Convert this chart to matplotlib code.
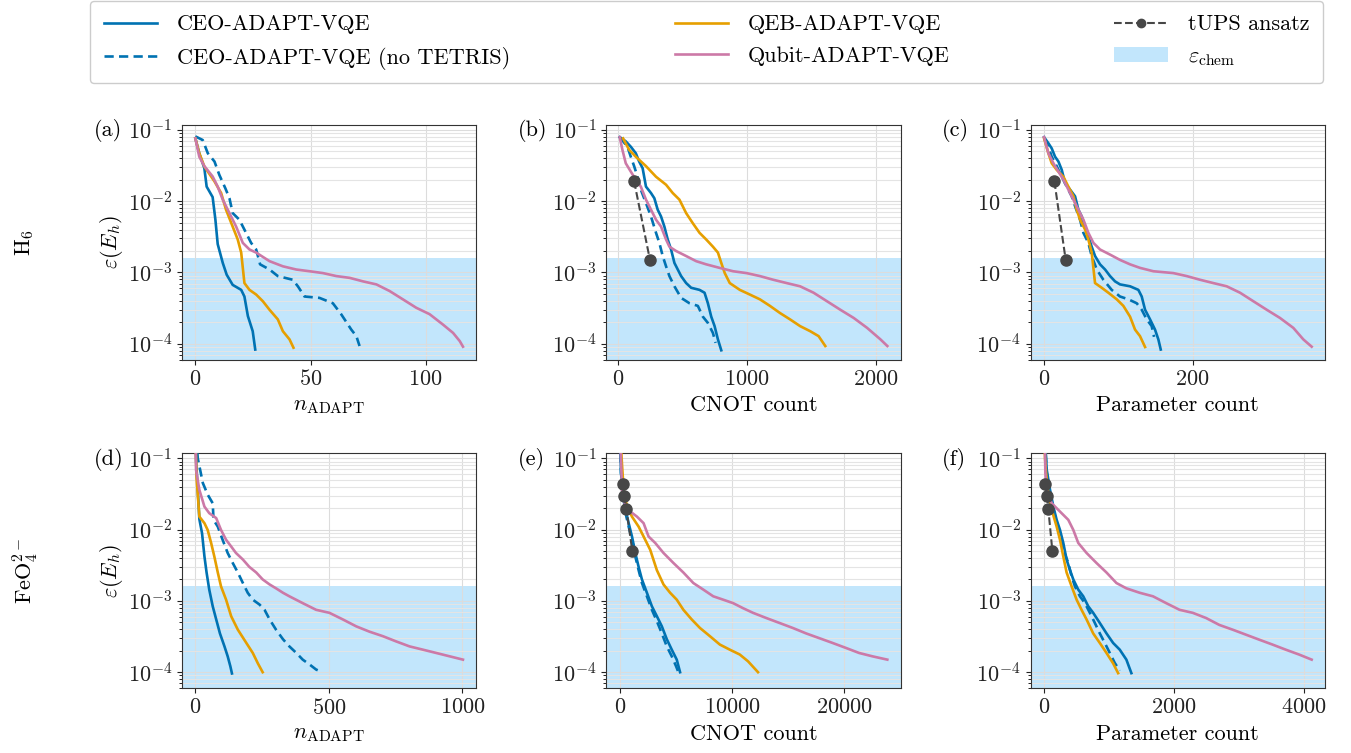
import matplotlib
matplotlib.use("Agg")
import matplotlib.pyplot as plt
from matplotlib.lines import Line2D
from matplotlib.patches import Patch

plt.rcParams["font.family"] = "cmr10"
plt.rcParams["mathtext.fontset"] = "cm"
plt.rcParams["axes.formatter.use_mathtext"] = True
plt.rcParams["font.size"] = 16

CEO_COLOR = "#0072B2"
QEB_COLOR = "#E69F00"
QUBIT_COLOR = "#CC79A7"
TUPS_COLOR = "#474747"
CHEM_COLOR = "#87CEFA"
CHEM_ACC = 1.6e-3

# ---- H6, x = n_ADAPT ----
A_CEO_X = [0, 1.7, 3.9, 4.9, 7.5, 8.7, 9.7, 11.9, 13.6, 16.2, 19.9, 21.3, 22.8, 24.9, 26]
A_CEO_Y = [0.076, 0.047, 0.029, 0.016, 0.0114, 0.0055, 0.0025, 0.00136, 9.3e-4, 6.7e-4,
           5.7e-4, 4.6e-4, 2.45e-4, 1.5e-4, 8.3e-5]
A_NT_X = [0, 3.2, 5.4, 8.3, 10.4, 13, 14.8, 16.2, 19.1, 22, 24.2, 26.4, 28.1, 32.2, 35.8,
          42.3, 44.5, 47.4, 53.9, 59.7, 63.3, 67.7, 69.9, 71.3]
A_NT_Y = [0.081, 0.072, 0.047, 0.036, 0.0234, 0.0152, 0.011, 0.0068, 0.0055, 0.0036, 0.0026,
          0.0021, 0.0013, 0.0011, 8.9e-4, 7.9e-4, 6.4e-4, 4.6e-4, 4.4e-4, 3.7e-4, 2.6e-4,
          1.58e-4, 1.28e-4, 9.3e-5]
A_QEB_X = [0, 1.7, 3.9, 8.3, 11.2, 13.3, 16.2, 18.4, 19.9, 21.3, 23.5, 26.4, 29.3, 32.2,
           35.8, 38, 40.9, 42.6]
A_QEB_Y = [0.076, 0.047, 0.0307, 0.0189, 0.013, 0.0076, 0.0044, 0.0029, 0.0019, 7.1e-4,
           5.7e-4, 4.9e-4, 3.95e-4, 3.0e-4, 2.2e-4, 1.5e-4, 1.15e-4, 8.8e-5]
A_QUB_X = [0, 1.7, 3.9, 7.5, 9.7, 11.9, 14.8, 17.7, 20.6, 23.5, 26.4, 32.2, 38, 43.8, 49.6,
           55.4, 61.2, 67, 72.8, 78.6, 84.3, 90.1, 95.9, 101.7, 107.5, 111.9, 114.8, 116.2]
A_QUB_Y = [0.076, 0.042, 0.031, 0.0222, 0.016, 0.0105, 0.0068, 0.0044, 0.0026, 0.0021,
           0.0019, 0.00144, 0.00122, 0.0011, 0.00104, 9.8e-4, 8.9e-4, 8.4e-4, 7.5e-4, 6.8e-4,
           5.5e-4, 4.2e-4, 3.2e-4, 2.6e-4, 1.86e-4, 1.42e-4, 1.09e-4, 9.1e-5]

# ---- H6, x = CNOT count ----
B_CEO_X = [10, 57, 96, 135, 161, 188, 214, 253, 279, 305, 331, 357, 383, 409, 435, 461, 487,
           526, 565, 630, 669, 695, 721, 747, 773, 799]
B_CEO_Y = [0.079, 0.069, 0.058, 0.047, 0.036, 0.029, 0.016, 0.013, 0.011, 0.0076, 0.0061,
           0.0044, 0.0029, 0.0021, 0.00136, 0.0011, 8.9e-4, 7.1e-4, 6.1e-4, 5.7e-4, 5.2e-4,
           3.7e-4, 2.4e-4, 1.77e-4, 1.15e-4, 8.1e-5]
B_NT_X = [10, 70, 96, 122, 148, 174, 214, 253, 292, 318, 344, 370, 396, 435, 487, 552, 617,
          656, 695, 734, 755]
B_NT_Y = [0.079, 0.058, 0.042, 0.031, 0.022, 0.0145, 0.0094, 0.0061, 0.0036, 0.0026, 0.0017,
          0.00122, 8.9e-4, 6.4e-4, 4.4e-4, 3.7e-4, 3.4e-4, 2.4e-4, 1.96e-4, 1.42e-4, 1.03e-4]
B_QEB_X = [36, 83, 135, 214, 292, 370, 422, 474, 526, 578, 630, 682, 734, 773, 799, 826, 865,
           943, 1021, 1099, 1177, 1255, 1333, 1411, 1490, 1555, 1607]
B_QEB_Y = [0.076, 0.0525, 0.042, 0.031, 0.022, 0.017, 0.013, 0.0105, 0.0068, 0.0049, 0.0036,
           0.0029, 0.0023, 0.0019, 0.00136, 9.8e-4, 7.1e-4, 5.7e-4, 4.9e-4, 4.2e-4, 3.4e-4,
           2.7e-4, 2.2e-4, 1.77e-4, 1.5e-4, 1.28e-4, 9.3e-5]
B_QUB_X = [10, 31, 57, 96, 135, 174, 214, 253, 292, 331, 370, 396, 448, 526, 604, 682, 786,
           891, 995, 1099, 1203, 1307, 1411, 1516, 1620, 1724, 1828, 1932, 2036, 2089]
B_QUB_Y = [0.079, 0.0525, 0.034, 0.026, 0.02, 0.016, 0.0105, 0.0076, 0.0055, 0.0044, 0.0029,
           0.0023, 0.002, 0.0017, 0.00144, 0.0013, 0.00116, 0.00104, 9.8e-4, 8.9e-4, 7.9e-4,
           7.1e-4, 6.4e-4, 5.2e-4, 3.95e-4, 3.0e-4, 2.3e-4, 1.67e-4, 1.15e-4, 9.3e-5]
B_TUPS_X = [122, 245]
B_TUPS_Y = [0.019, 0.0015]

# ---- H6, x = parameter count ----
C_CEO_X = [0, 5.8, 10.3, 14.8, 19.3, 23.8, 28.3, 35, 41.7, 46.2, 50.7, 55.2, 59.6, 64.1,
           68.6, 75.3, 82.1, 88.8, 95.5, 102.2, 115.7, 126.9, 131.4, 135.9, 142.6, 149.3,
           153.8, 157]
C_CEO_Y = [0.079, 0.065, 0.055, 0.042, 0.036, 0.0275, 0.0179, 0.0145, 0.0117, 0.0076, 0.0061,
           0.0044, 0.0032, 0.0023, 0.0017, 0.0013, 0.0011, 8.9e-4, 7.5e-4, 6.8e-4, 6.4e-4,
           5.7e-4, 4.6e-4, 3.0e-4, 2.2e-4, 1.58e-4, 1.15e-4, 8.3e-5]
C_NT_X = [0, 5.8, 10.3, 17, 23.8, 30.5, 37.2, 41.7, 48.4, 52.9, 59.6, 64.1, 70.9, 79.8, 91,
          102.2, 113.5, 124.7, 131.4, 138.1, 144.8, 148]
C_NT_Y = [0.076, 0.058, 0.042, 0.031, 0.022, 0.016, 0.0117, 0.0085, 0.0055, 0.0036, 0.0026,
          0.0017, 0.0011, 7.9e-4, 5.7e-4, 4.6e-4, 4.2e-4, 3.7e-4, 3.0e-4, 2.2e-4, 1.77e-4,
          1.25e-4]
C_QEB_X = [0, 5.8, 10.3, 17, 26, 32.7, 39.5, 43.9, 48.4, 55.2, 59.6, 64.1, 68.6, 77.6, 86.5,
           97.8, 106.7, 115.7, 122.4, 129.1, 135.9]
C_QEB_Y = [0.076, 0.047, 0.034, 0.0275, 0.022, 0.016, 0.0117, 0.0076, 0.0055, 0.004, 0.0029,
           0.0019, 7.1e-4, 6.1e-4, 5.2e-4, 4.2e-4, 3.4e-4, 2.4e-4, 1.58e-4, 1.28e-4, 9.0e-5]
C_QUB_X = [0, 5.8, 12.6, 19.3, 26, 32.7, 39.5, 46.2, 52.9, 59.6, 66.4, 75.3, 88.8, 102.2,
           115.7, 129.1, 147.1, 174, 191.9, 209.9, 227.8, 245.7, 263.7, 281.6, 299.6, 317.5,
           335.4, 348.9, 360.1]
C_QUB_Y = [0.079, 0.047, 0.034, 0.026, 0.02, 0.0145, 0.0105, 0.0076, 0.0055, 0.0036, 0.0026,
           0.0021, 0.00178, 0.0015, 0.0013, 0.00116, 0.00104, 9.8e-4, 8.9e-4, 7.9e-4, 7.1e-4,
           6.4e-4, 5.2e-4, 3.95e-4, 3.0e-4, 2.3e-4, 1.67e-4, 1.15e-4, 9.1e-5]
C_TUPS_X = [13.9, 29.1]
C_TUPS_Y = [0.019, 0.0015]

# ---- FeO4^2-, x = n_ADAPT ----
D_CEO_X = [0, 3, 9, 15, 25, 34, 42, 52, 65, 78, 92, 109, 121, 131, 137]
D_CEO_Y = [0.3, 0.09, 0.036, 0.014, 0.0089, 0.0042, 0.0025, 0.00144, 8.4e-4, 5.5e-4, 3.5e-4,
           2.3e-4, 1.67e-4, 1.21e-4, 9.6e-5]
D_NT_X = [0, 9, 28, 46, 65, 68, 84, 102, 121, 140, 159, 178, 196, 215, 240, 259, 278, 302,
          328, 352, 378, 402, 428, 452, 475]
D_NT_Y = [0.3, 0.1, 0.045, 0.031, 0.0234, 0.0137, 0.011, 0.0072, 0.0047, 0.0034, 0.0025,
          0.00178, 0.0013, 0.00104, 8.9e-4, 7.5e-4, 5.5e-4, 3.95e-4, 2.9e-4, 2.3e-4, 1.86e-4,
          1.5e-4, 1.28e-4, 1.09e-4, 1.0e-4]
D_QEB_X = [0, 2.5, 5, 15, 34, 46, 59, 71, 84, 96, 115, 134, 159, 190, 215, 234, 252]
D_QEB_Y = [0.3, 0.1, 0.05, 0.0152, 0.0123, 0.0099, 0.0065, 0.0042, 0.0025, 0.0016, 0.00104,
           6.1e-4, 3.95e-4, 2.6e-4, 1.86e-4, 1.33e-4, 1.0e-4]
D_QUB_X = [0, 2.5, 15, 34, 52, 78, 96, 115, 134, 152, 178, 202, 228, 252, 278, 302, 328, 352,
           402, 452, 502, 552, 602, 652, 702, 752, 802, 852, 902, 952, 1002]
D_QUB_Y = [0.3, 0.069, 0.036, 0.021, 0.017, 0.0145, 0.0099, 0.0072, 0.0058, 0.0047, 0.0038,
           0.003, 0.0025, 0.002, 0.0017, 0.0015, 0.0013, 0.00116, 9.3e-4, 7.5e-4, 6.8e-4,
           5.5e-4, 4.4e-4, 3.7e-4, 3.2e-4, 2.7e-4, 2.3e-4, 2.07e-4, 1.86e-4, 1.67e-4, 1.5e-4]

# ---- FeO4^2-, x = CNOT count ----
E_CEO_X = [0, 118, 354, 591, 798, 1093, 1388, 1684, 1979, 2422, 2866, 3309, 3752, 4195, 4638,
           5081, 5377]
E_CEO_Y = [0.3, 0.062, 0.029, 0.017, 0.0123, 0.008, 0.0047, 0.003, 0.002, 0.0013, 8.4e-4,
           6.1e-4, 4.4e-4, 2.9e-4, 2.07e-4, 1.5e-4, 1.0e-4]
E_NT_X = [0, 118, 354, 591, 798, 1093, 1388, 1684, 1979, 2422, 2866, 3309, 3752, 4195, 4638,
          5022, 5229]
E_NT_Y = [0.3, 0.062, 0.026, 0.0152, 0.011, 0.0072, 0.0042, 0.0027, 0.00178, 0.00116, 7.5e-4,
          5.2e-4, 3.5e-4, 2.3e-4, 1.67e-4, 1.21e-4, 1.0e-4]
E_QEB_X = [0, 207, 354, 650, 1093, 1684, 2127, 2718, 3309, 3900, 4490, 5081, 5672, 6411, 7149,
           8035, 8922, 9808, 10694, 11433, 12319]
E_QEB_Y = [0.3, 0.08, 0.036, 0.021, 0.0152, 0.011, 0.008, 0.0052, 0.0027, 0.0017, 0.0013,
           0.00104, 7.5e-4, 5.5e-4, 4.17e-4, 3.2e-4, 2.44e-4, 2.07e-4, 1.77e-4, 1.42e-4, 1.0e-4]
E_QUB_X = [0, 207, 502, 945, 1536, 2127, 2570, 3161, 3900, 4786, 5672, 6558, 7445, 8331, 9217,
           10103, 10990, 11876, 13058, 14239, 15421, 16603, 17784, 18966, 20148, 21329, 22511,
           23840]
E_QUB_Y = [0.3, 0.036, 0.021, 0.0179, 0.0152, 0.0123, 0.008, 0.0065, 0.0047, 0.0034, 0.0025,
           0.00178, 0.00144, 0.00116, 0.00104, 9.3e-4, 7.9e-4, 6.8e-4, 5.75e-4, 4.9e-4, 4.17e-4,
           3.5e-4, 3.0e-4, 2.57e-4, 2.19e-4, 1.86e-4, 1.67e-4, 1.5e-4]
E_TUPS_X = [295, 414, 591, 1123]
E_TUPS_Y = [0.043, 0.0297, 0.0193, 0.005]

# ---- FeO4^2-, x = parameter count ----
F_CEO_X = [0, 41, 92, 143, 194, 245, 296, 347, 399, 450, 526, 603, 680, 756, 858, 961, 1063,
           1165, 1267, 1344]
F_CEO_Y = [0.3, 0.069, 0.036, 0.021, 0.0137, 0.0099, 0.0065, 0.0038, 0.0027, 0.002, 0.00144,
           0.00116, 8.4e-4, 6.8e-4, 4.9e-4, 3.5e-4, 2.57e-4, 2.07e-4, 1.5e-4, 9.7e-5]
F_NT_X = [0, 41, 92, 143, 194, 245, 296, 373, 424, 475, 552, 629, 705, 782, 858, 935, 1012,
          1088, 1165]
F_NT_Y = [0.3, 0.062, 0.032, 0.0189, 0.0123, 0.008, 0.0052, 0.0034, 0.0022, 0.0016, 0.00116,
          9.3e-4, 6.8e-4, 4.9e-4, 3.5e-4, 2.57e-4, 1.86e-4, 1.35e-4, 1.05e-4]
F_QEB_X = [0, 15, 31, 66, 118, 194, 245, 296, 347, 424, 501, 577, 654, 756, 858, 961, 1063,
           1140]
F_QEB_Y = [0.3, 0.1, 0.062, 0.032, 0.0189, 0.011, 0.0072, 0.0042, 0.0025, 0.0016, 0.00104,
           7.5e-4, 5.5e-4, 3.5e-4, 2.57e-4, 1.86e-4, 1.33e-4, 9.7e-5]
F_QUB_X = [0, 15, 20, 41, 118, 245, 373, 450, 526, 654, 807, 961, 1114, 1267, 1472, 1676,
           1880, 2085, 2289, 2494, 2698, 2902, 3107, 3311, 3516, 3720, 3924, 4119]
F_QUB_Y = [0.3, 0.12, 0.062, 0.036, 0.0234, 0.0179, 0.0137, 0.0099, 0.0065, 0.0047, 0.0034,
           0.0025, 0.00178, 0.0015, 0.0013, 0.00116, 9.3e-4, 7.5e-4, 6.8e-4, 5.75e-4, 4.6e-4,
           3.95e-4, 3.36e-4, 2.86e-4, 2.44e-4, 2.07e-4, 1.77e-4, 1.5e-4]
F_TUPS_X = [20, 46, 66, 128]
F_TUPS_Y = [0.043, 0.0297, 0.0193, 0.005]

PANEL_TAGS = ["(a)", "(b)", "(c)", "(d)", "(e)", "(f)"]
X_LABELS = [r"$n_{\mathrm{ADAPT}}$", "CNOT count", "Parameter count"]
ROW_LABELS = [r"H$_6$", r"FeO$_4^{2-}$"]
X_TICKS = [[0, 50, 100], [0, 1000, 2000], [0, 200],
           [0, 500, 1000], [0, 10000, 20000], [0, 2000, 4000]]

PANELS = [
    (A_CEO_X, A_CEO_Y, A_NT_X, A_NT_Y, A_QEB_X, A_QEB_Y, A_QUB_X, A_QUB_Y, None, None),
    (B_CEO_X, B_CEO_Y, B_NT_X, B_NT_Y, B_QEB_X, B_QEB_Y, B_QUB_X, B_QUB_Y, B_TUPS_X, B_TUPS_Y),
    (C_CEO_X, C_CEO_Y, C_NT_X, C_NT_Y, C_QEB_X, C_QEB_Y, C_QUB_X, C_QUB_Y, C_TUPS_X, C_TUPS_Y),
    (D_CEO_X, D_CEO_Y, D_NT_X, D_NT_Y, D_QEB_X, D_QEB_Y, D_QUB_X, D_QUB_Y, None, None),
    (E_CEO_X, E_CEO_Y, E_NT_X, E_NT_Y, E_QEB_X, E_QEB_Y, E_QUB_X, E_QUB_Y, E_TUPS_X, E_TUPS_Y),
    (F_CEO_X, F_CEO_Y, F_NT_X, F_NT_Y, F_QEB_X, F_QEB_Y, F_QUB_X, F_QUB_Y, F_TUPS_X, F_TUPS_Y),
]

fig, axes = plt.subplots(2, 3, figsize=(13.51, 7.53), dpi=100)
fig.subplots_adjust(left=0.1347, right=0.9808, top=0.834, bottom=0.0863,
                    wspace=0.4415, hspace=0.40)

LW = 1.9
for idx, (ax, panel) in enumerate(zip(axes.flat, PANELS)):
    cx, cy, nx, ny, qx, qy, ux, uy, tx, ty = panel
    ax.axhspan(1e-6, CHEM_ACC, color=CHEM_COLOR, alpha=0.5, lw=0, zorder=0)
    ax.plot(cx, cy, color=CEO_COLOR, lw=LW, zorder=3)
    ax.plot(nx, ny, color=CEO_COLOR, lw=LW, ls=(0, (3.5, 2)), zorder=3)
    ax.plot(qx, qy, color=QEB_COLOR, lw=LW, zorder=3)
    ax.plot(ux, uy, color=QUBIT_COLOR, lw=LW, zorder=3)
    if tx is not None:
        ax.plot(tx, ty, color=TUPS_COLOR, lw=1.5, ls="--", marker="o", ms=8, zorder=4)

    ax.set_yscale("log")
    ax.set_ylim(6e-5, 0.117)
    ax.set_xticks(X_TICKS[idx])
    ax.grid(True, which="major", color="#dcdcdc", lw=0.8, zorder=1)
    ax.yaxis.grid(True, which="minor", color="#e4e4e4", lw=0.8, zorder=1)
    ax.set_axisbelow(True)
    for sp in ax.spines.values():
        sp.set_color("#333333")
    ax.tick_params(colors="#222222", labelsize=16)
    ax.set_xlabel(X_LABELS[idx % 3], fontsize=16, labelpad=5)
    if idx % 3 == 0:
        ax.set_ylabel(r"$\varepsilon(E_h)$", fontsize=16, labelpad=2)
    ax.text(-0.30, 0.975, PANEL_TAGS[idx], transform=ax.transAxes,
            ha="left", va="center", fontsize=16)

for row, label in enumerate(ROW_LABELS):
    pos = axes[row, 0].get_position()
    fig.text(0.0185, (pos.y0 + pos.y1) / 2, label, rotation=90,
             ha="center", va="center", fontsize=16)

handles = [
    Line2D([], [], color=CEO_COLOR, lw=LW),
    Line2D([], [], color=CEO_COLOR, lw=LW, ls=(0, (3.5, 2))),
    Line2D([], [], color=QEB_COLOR, lw=LW),
    Line2D([], [], color=QUBIT_COLOR, lw=LW),
    Line2D([], [], color=TUPS_COLOR, lw=1.5, ls="--", marker="o", ms=6),
    Patch(facecolor=CHEM_COLOR, alpha=0.5, edgecolor="none"),
]
labels = ["CEO-ADAPT-VQE", "CEO-ADAPT-VQE (no TETRIS)", "QEB-ADAPT-VQE",
          "Qubit-ADAPT-VQE", "tUPS ansatz", r"$\varepsilon_{\mathrm{chem}}$"]
fig.legend(handles, labels, loc="upper left", ncol=3, mode="expand",
           bbox_to_anchor=(90 / 1351, 0, (1323 - 90) / 1351, 1 - 1 / 753),
           borderaxespad=0, fontsize=16, handlelength=2.4, handletextpad=0.9,
           labelspacing=0.55, borderpad=0.62, frameon=True, edgecolor="#cccccc",
           framealpha=1)

fig.savefig("out.png", dpi=100)
